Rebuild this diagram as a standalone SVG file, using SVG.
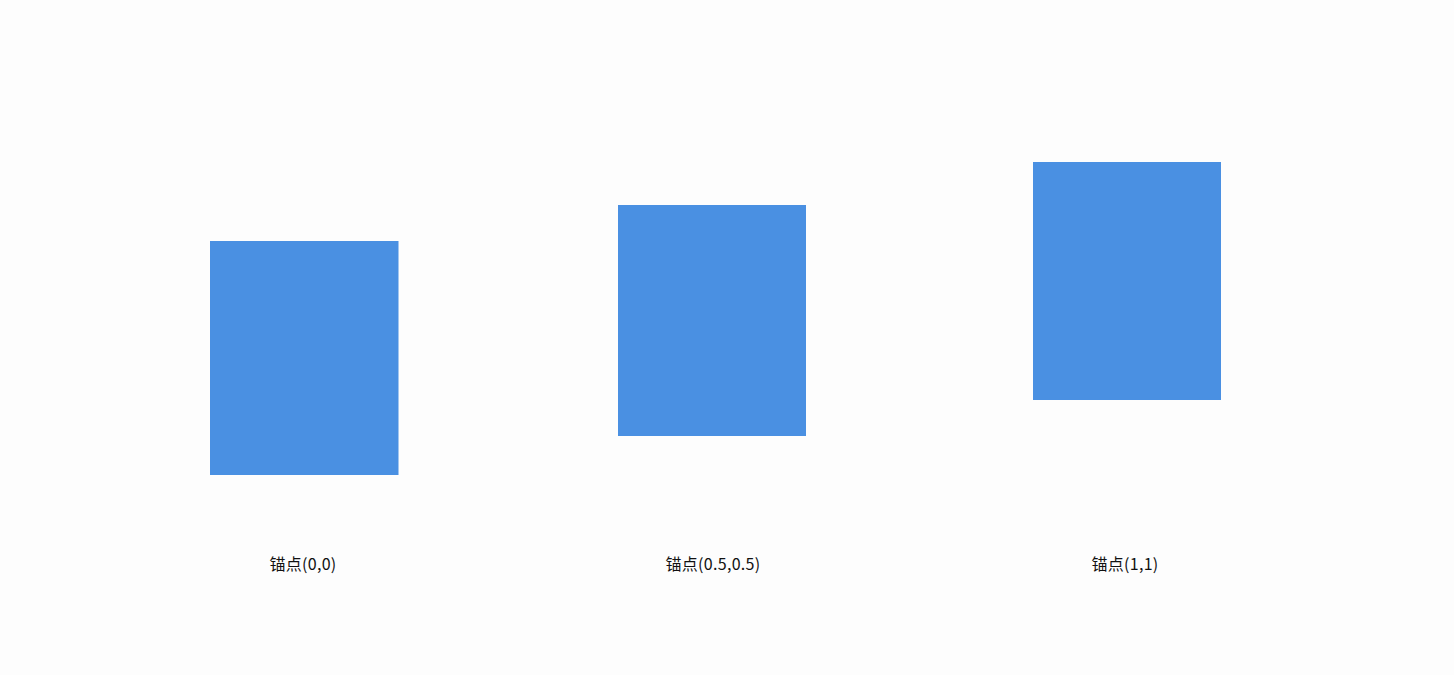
<svg xmlns="http://www.w3.org/2000/svg" width="1454" height="675" viewBox="0 0 1454 675">
<style>
.box{fill:#4A90E2}
.lbl{font-family:"Noto Sans CJK SC","Noto Sans",sans-serif;font-size:16px;letter-spacing:0.3px;fill:#111;text-anchor:middle}
</style>
<rect x="0" y="0" width="1454" height="675" fill="#FDFDFD"/>
<g id="node-anchor-0-0">
<rect class="box" x="210" y="241" width="188.5" height="234"/>
<text class="lbl" x="303" y="570">锚点(0,0)</text>
</g>
<g id="node-anchor-05-05">
<rect class="box" x="618" y="205" width="188" height="231"/>
<text class="lbl" x="713" y="570">锚点(0.5,0.5)</text>
</g>
<g id="node-anchor-1-1">
<rect class="box" x="1033" y="162" width="188" height="238"/>
<text class="lbl" x="1125" y="570">锚点(1,1)</text>
</g>
<g id="connectors"></g>
</svg>
